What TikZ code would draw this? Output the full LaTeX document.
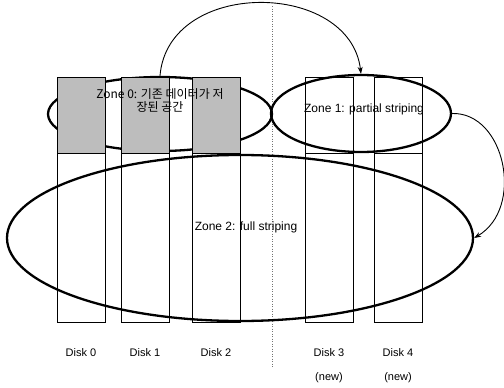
\documentclass[tikz,border=0pt]{standalone}
\usepackage{fontspec}
\setmainfont{Liberation Sans}
\newfontfamily\krfont{Noto Sans CJK KR}
\usetikzlibrary{shapes.geometric,arrows.meta}
\tikzset{
  zone/.style={draw=black, line width=2.3pt, ellipse, inner sep=0pt},
  diskbox/.style={draw=black, line width=0.8pt, rectangle, inner sep=0pt, minimum width=48pt},
  shaded/.style={diskbox, fill=black!26},
  lbl/.style={font=\fontsize{11}{13}\selectfont, inner sep=0pt},
  zlbl/.style={font=\fontsize{12}{14}\selectfont, inner sep=0pt, align=center},
  flow/.style={draw=black, line width=0.9pt, -{Stealth[length=7pt,width=5pt]}},
  divider/.style={draw=black!55, line width=0.6pt, dash pattern=on 1pt off 1.5pt}
}
\begin{document}
\begin{tikzpicture}[x=1pt,y=-1pt]
\useasboundingbox (0,0) rectangle (504,388);
% divider
\coordinate (dtop) at (272,6);
\coordinate (dbot) at (272,368);
\draw[divider] (dtop) -- (dbot);
% zone 0 ellipse (behind shaded boxes)
\node[zone, minimum width=224pt, minimum height=74pt] (z0) at (160,114) {};
% disk columns
\foreach \n/\x in {0/81,1/145.5,2/216.5}{
  \node[shaded, minimum height=76pt] (t\n) at (\x,115) {};
  \node[diskbox, minimum height=169pt] (b\n) at (\x,237.5) {};
}
\foreach \n/\x in {3/329,4/398}{
  \node[diskbox, minimum height=76pt] (t\n) at (\x,115) {};
  \node[diskbox, minimum height=169pt] (b\n) at (\x,237.5) {};
}
% zone 1 and 2 ellipses
\node[zone, minimum width=180pt, minimum height=77pt] (z1) at (361,113.5) {};
\node[zone, minimum width=466pt, minimum height=166pt] (z2) at (240,238) {};
% zone texts
\node[zlbl] (z0t) at (160,100) {\krfont Zone 0: 기존 데이터가 저\\[-1pt]\krfont 장된 공간};
\node[zlbl] (z1t) at (364,109) {Zone 1: partial striping};
\node[zlbl] (z2t) at (246,227) {Zone 2: full striping};
% disk labels
\node[lbl] (l0) at (81,353) {Disk 0};
\node[lbl] (l1) at (145,353) {Disk 1};
\node[lbl] (l2) at (216,353) {Disk 2};
\node[lbl] (l3) at (329,353) {Disk 3};
\node[lbl] (l4) at (398,353) {Disk 4};
\node[lbl] (n3) at (329,378) {(new)};
\node[lbl] (n4) at (398,378) {(new)};
% arrows
\draw[flow] (z0.north) .. controls (168,-22) and (350,-20) .. (z1.north);
\draw[flow] (z1.east) .. controls (505,112) and (525,208) .. (z2.east);
\end{tikzpicture}
\end{document}
